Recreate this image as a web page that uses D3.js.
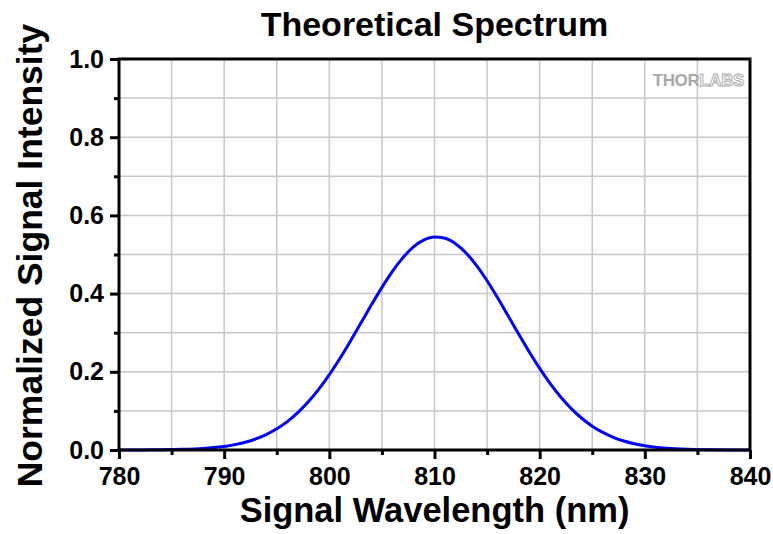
<!DOCTYPE html>
<html>
<head>
<meta charset="utf-8">
<script src="https://cdn.jsdelivr.net/npm/d3@7"></script>
<style>
  body { margin: 0; background: #fff; }
  text { font-family: "Liberation Sans", Arial, sans-serif; font-weight: bold; }
</style>
</head>
<body>
<script>
var wavelength = [780, 782, 784, 786, 788, 789, 790, 791, 792, 793, 794, 795, 796, 797, 798, 799,
  800, 801, 802, 803, 804, 805, 806, 807, 808, 809, 810, 811, 812, 813, 814, 815, 816, 817, 818, 819,
  820, 821, 822, 823, 824, 825, 826, 827, 828, 829, 830, 831, 832, 834, 836, 838, 840];
var intensity = [0.0001, 0.0002, 0.0006, 0.0016, 0.0039, 0.0061, 0.0092, 0.0137, 0.0199, 0.0283, 0.0395, 0.0541, 0.0726, 0.0955, 0.1231, 0.1555,
  0.1926, 0.2339, 0.2783, 0.3247, 0.3712, 0.4160, 0.4570, 0.4920, 0.5193, 0.5372, 0.5448, 0.5415, 0.5276, 0.5039, 0.4717, 0.4328, 0.3893, 0.3432, 0.2966, 0.2512,
  0.2086, 0.1697, 0.1354, 0.1059, 0.0812, 0.0610, 0.0449, 0.0324, 0.0229, 0.0159, 0.0108, 0.0072, 0.0047, 0.0019, 0.0007, 0.0002, 0.0001];
var xTicks = [780, 790, 800, 810, 820, 830, 840];
var yTicks = [0.0, 0.2, 0.4, 0.6, 0.8, 1.0];

var width = 773, height = 534;
var margin = { top: 59, right: 23, bottom: 84, left: 119 };

var svg = d3.select("body").append("svg")
  .attr("width", width)
  .attr("height", height);

var x = d3.scaleLinear().domain([780, 840]).range([margin.left, width - margin.right]);
var y = d3.scaleLinear().domain([0, 1]).range([height - margin.bottom, margin.top]);

// grid
svg.append("g")
  .selectAll("line.gx")
  .data(d3.range(785, 840, 5))
  .enter().append("line")
  .attr("x1", function(d) { return x(d); })
  .attr("x2", function(d) { return x(d); })
  .attr("y1", y(0))
  .attr("y2", y(1))
  .attr("stroke", "#c8c8c8")
  .attr("stroke-width", 1.5);

svg.append("g")
  .selectAll("line.gy")
  .data(d3.range(1, 10).map(function(i) { return i / 10; }))
  .enter().append("line")
  .attr("x1", x(780))
  .attr("x2", x(840))
  .attr("y1", function(d) { return y(d); })
  .attr("y2", function(d) { return y(d); })
  .attr("stroke", "#c8c8c8")
  .attr("stroke-width", 1.5);

// logo
var logo = svg.append("text")
  .attr("x", x(840) - 6)
  .attr("y", margin.top + 27)
  .attr("text-anchor", "end")
  .style("font-size", "17px")
  .style("letter-spacing", "-0.4px");
logo.append("tspan").attr("fill", "#a8a8a8").text("THOR");
logo.append("tspan").attr("fill", "#fff").attr("stroke", "#a8a8a8").attr("stroke-width", 0.9).text("LABS");

// curve
var line = d3.line()
  .x(function(d, i) { return x(wavelength[i]); })
  .y(function(d) { return y(d); })
  .curve(d3.curveMonotoneX);

svg.append("path")
  .datum(intensity)
  .attr("d", line)
  .attr("fill", "none")
  .attr("stroke", "#0000ff")
  .attr("stroke-width", 3);

// axes
var xMinor = svg.append("g")
  .attr("transform", "translate(0," + y(0) + ")")
  .call(d3.axisBottom(x).tickValues([785, 795, 805, 815, 825, 835]).tickSize(5).tickFormat(""));
var xAxis = svg.append("g")
  .attr("transform", "translate(0," + y(0) + ")")
  .call(d3.axisBottom(x).tickValues(xTicks).tickSize(9).tickPadding(6).tickFormat(d3.format("d")));

var yMinor = svg.append("g")
  .attr("transform", "translate(" + x(780) + ",0)")
  .call(d3.axisLeft(y).tickValues([0.1, 0.3, 0.5, 0.7, 0.9]).tickSize(5).tickFormat(""));
var yAxis = svg.append("g")
  .attr("transform", "translate(" + x(780) + ",0)")
  .call(d3.axisLeft(y).tickValues(yTicks).tickSize(9).tickPadding(6).tickFormat(d3.format(".1f")));

[xMinor, xAxis, yMinor, yAxis].forEach(function(g) {
  g.select(".domain").remove();
  g.selectAll("line").attr("stroke", "#000").attr("stroke-width", 3);
  g.selectAll("text").attr("fill", "#000").style("font-size", "25px").style("font-family", null);
});
xAxis.selectAll("text").attr("dy", "0.8em");

// frame
svg.append("rect")
  .attr("x", x(780))
  .attr("y", y(1))
  .attr("width", x(840) - x(780))
  .attr("height", y(0) - y(1))
  .attr("fill", "none")
  .attr("stroke", "#000")
  .attr("stroke-width", 3);

// titles
svg.append("text")
  .attr("x", (x(780) + x(840)) / 2)
  .attr("y", 36)
  .attr("text-anchor", "middle")
  .style("font-size", "34px")
  .text("Theoretical Spectrum");

svg.append("text")
  .attr("x", (x(780) + x(840)) / 2)
  .attr("y", 522)
  .attr("text-anchor", "middle")
  .style("font-size", "34.5px")
  .text("Signal Wavelength (nm)");

svg.append("text")
  .attr("transform", "translate(42," + ((y(0) + y(1)) / 2 + 1) + ") rotate(-90)")
  .attr("text-anchor", "middle")
  .style("font-size", "35.5px")
  .text("Normalized Signal Intensity");
</script>
</body>
</html>
